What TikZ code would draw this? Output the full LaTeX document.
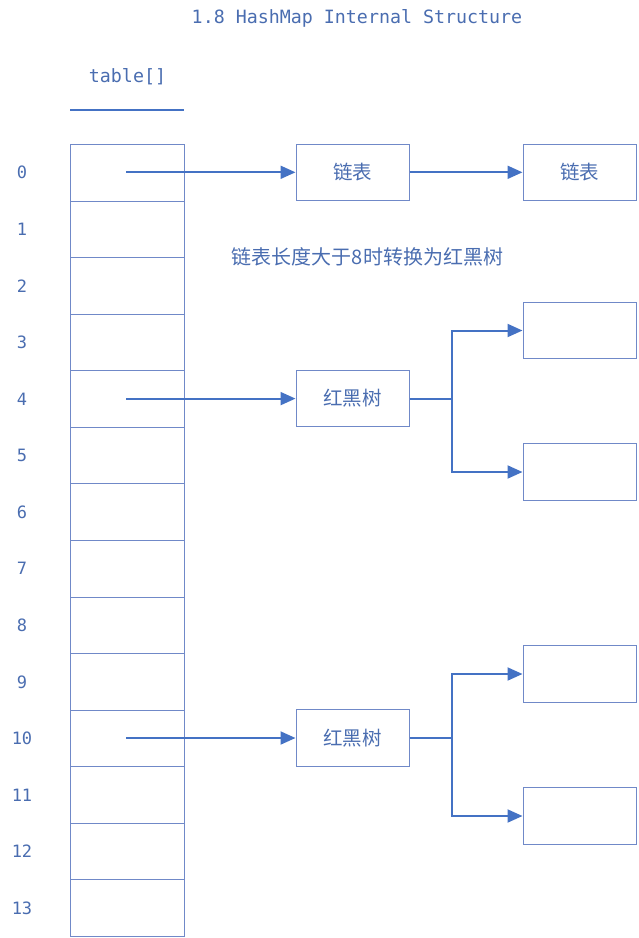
\documentclass[tikz,border=0pt]{standalone}
\usepackage{fontspec}
\setmonofont{DejaVu Sans Mono}
\newfontfamily\cjk{Noto Sans CJK SC}
\usetikzlibrary{arrows.meta}
\definecolor{txt}{HTML}{4A6DB0}
\definecolor{edge}{HTML}{7089C8}
\definecolor{arr}{HTML}{4472C4}
\tikzset{
  cell/.style={draw=edge, line width=1pt, minimum width=114pt, minimum height=56.57pt, inner sep=0pt, anchor=north west},
  boxn/.style={draw=edge, line width=1pt, minimum width=113pt, minimum height=56.5pt, inner sep=0pt, text=txt, font=\cjk\fontsize{19.5}{22}\selectfont},
  idx/.style={text=txt, font=\ttfamily\fontsize{17}{20}\selectfont, inner sep=0pt},
  head/.style={text=txt, font=\ttfamily\fontsize{18.3}{22}\selectfont, inner sep=0pt},
  conn/.style={draw=arr, line width=2pt, -{Triangle[length=15pt,width=13pt]}},
  plain/.style={draw=arr, line width=2pt}
}
\begin{document}
\begin{tikzpicture}[x=1pt,y=-1pt]
\useasboundingbox (0,0) rectangle (638,938);
\node[head] (title) at (357,18.5) {1.8 HashMap Internal Structure};
\node[head] (tlabel) at (127.5,76.5) {table[]};
\coordinate (ul1) at (70,110);
\coordinate (ul2) at (184,110);
\draw[draw=arr, line width=1.6pt] (ul1) -- (ul2);
\foreach \i in {0,...,13} {
  \node[cell] (c\i) at (70,{144+56.57*\i}) {};
  \node[idx] (n\i) at (22,{172.8+56.57*\i}) {\i};
}
\coordinate (s0) at (126,172.3);
\coordinate (s4) at (126,398.6);
\coordinate (s10) at (126,738);
% row 0 linked list
\node[boxn] (l1) at (352.5,172.3) {链表};
\node[boxn] (l2) at (579.5,172.3) {链表};
\draw[conn] (s0) -- (l1.west);
\draw[conn] (l1.east) -- (l2.west);
\node[text=txt, font=\cjk\fontsize{20}{24}\selectfont, inner sep=0pt] (note) at (367.5,257) {链表长度大于8时转换为红黑树};
% row 4 tree
\node[boxn] (t1) at (352.5,398.6) {红黑树};
\node[boxn] (t1a) at (579.5,330.5) {};
\node[boxn] (t1b) at (579.5,472) {};
\draw[conn] (s4) -- (t1.west);
\coordinate (j1) at (452,398.6);
\draw[plain] (t1.east) -- (j1);
\draw[conn] (j1) |- (t1a.west);
\draw[conn] (j1) |- (t1b.west);
% row 10 tree
\node[boxn] (t2) at (352.5,738) {红黑树};
\node[boxn] (t2a) at (579.5,674) {};
\node[boxn] (t2b) at (579.5,816) {};
\draw[conn] (s10) -- (t2.west);
\coordinate (j2) at (452,738);
\draw[plain] (t2.east) -- (j2);
\draw[conn] (j2) |- (t2a.west);
\draw[conn] (j2) |- (t2b.west);
\end{tikzpicture}
\end{document}
